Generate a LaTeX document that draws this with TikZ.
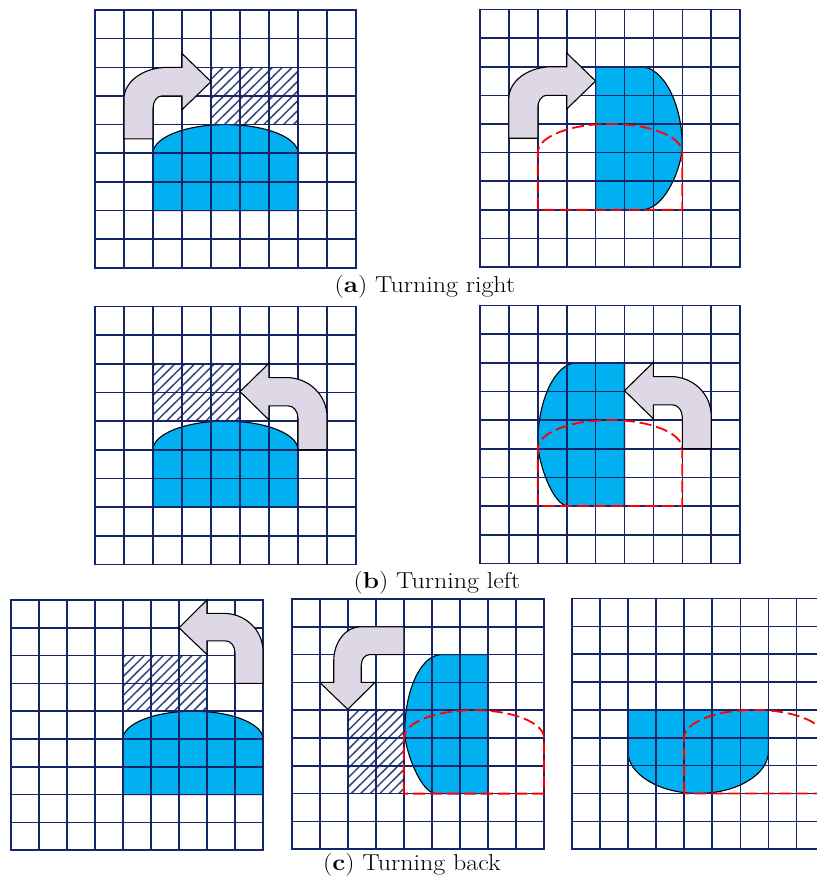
\documentclass[tikz,border=0pt]{standalone}
\usepackage{graphicx}
\definecolor{gridc}{RGB}{22,36,104}
\definecolor{bluec}{RGB}{0,176,240}
\definecolor{redc}{RGB}{255,0,0}
\definecolor{arrowc}{RGB}{222,215,230}
\tikzset{
  gridln/.style={draw=gridc, line width=1.6pt, line cap=rect},
  bluefill/.style={fill=bluec, draw=black, line width=1.1pt},
  ghost/.style={draw=redc, line width=1.8pt, dash pattern=on 12pt off 5pt},
  turnarrow/.style={fill=arrowc, draw=black, line width=1.1pt, line join=miter},
  hatchln/.style={draw=gridc!85, line width=1.5pt},
  caption/.style={font=\fontsize{23}{28}\selectfont, anchor=base, inner sep=0pt}
}
\newcommand\mygridlines{%
  \foreach \i in {0,...,9}{\draw[gridln] (\i,0) -- (\i,9); \draw[gridln] (0,\i) -- (9,\i);}}
\newcommand\hatcharea[4]{%
  \begin{scope}
    \clip (#1,#2) rectangle (#3,#4);
    \foreach \k in {0,...,45}{\draw[hatchln] ({#1-6+\k*0.34},#4) -- ++(6,-6);}
  \end{scope}}
\begin{document}
\begin{tikzpicture}[x=1pt,y=-1pt]
\useasboundingbox (0,0) rectangle (817,884);
\fill[white] (0,0) rectangle (817,884);

% ---------- (a) left
\begin{scope}[shift={(95pt,-10pt)}, x=29pt, y=-28.65pt]
  \path[bluefill] (2,7) -- (2,5) .. controls (2,4.448) and (3.119,4) .. (4.5,4) .. controls (5.881,4) and (7,4.448) .. (7,5) -- (7,7) -- cycle;
  \hatcharea{4}{2}{7}{4}
  \mygridlines
  \path[turnarrow] (1,4.5) -- (1,3.1) .. controls (1,2.5) and (1.67,2) .. (2.5,2) -- (3,2) -- (3,1.52) -- (4,2.5) -- (3,3.48) -- (3,3) -- (2.3,3) .. controls (2.13,3) and (2,3.2) .. (2,3.43) -- (2,4.5) -- cycle;
\end{scope}

% ---------- (a) right
\begin{scope}[shift={(480pt,-9.5pt)}, x=28.9pt, y=-28.6pt]
  \path[bluefill] (4,2) -- (5.55,2) .. controls (6.35,2) and (7,3.3) .. (7,4.8) .. controls (7,5.4) and (6.45,7) .. (5.6,7) -- (4,7) -- cycle;
  \mygridlines
  \path[ghost] (2,7) -- (2,5) .. controls (2,4.448) and (3.119,4) .. (4.5,4) .. controls (5.881,4) and (7,4.448) .. (7,5) -- (7,7) -- cycle;
  \path[turnarrow] (1,4.5) -- (1,3.1) .. controls (1,2.5) and (1.67,2) .. (2.5,2) -- (3,2) -- (3,1.52) -- (4,2.5) -- (3,3.48) -- (3,3) -- (2.3,3) .. controls (2.13,3) and (2,3.2) .. (2,3.43) -- (2,4.5) -- cycle;
\end{scope}

% ---------- (b) left
\begin{scope}[shift={(95pt,-306.5pt)}, x=29pt, y=-28.65pt]
  \path[bluefill] (2,7) -- (2,5) .. controls (2,4.448) and (3.119,4) .. (4.5,4) .. controls (5.881,4) and (7,4.448) .. (7,5) -- (7,7) -- cycle;
  \hatcharea{2}{2}{5}{4}
  \mygridlines
  \path[turnarrow] (8,5) -- (8,3.85) .. controls (8,3.09) and (7.37,2.48) .. (6.6,2.48) -- (6,2.48) -- (6,1.98) -- (5,2.97) -- (6,3.96) -- (6,3.47) -- (6.67,3.47) .. controls (6.85,3.47) and (7,3.66) .. (7,3.9) -- (7,5) -- cycle;
\end{scope}

% ---------- (b) right
\begin{scope}[shift={(480pt,-305.5pt)}, x=28.9pt, y=-28.65pt]
  \path[bluefill] (5,2) -- (3.35,2) .. controls (2.6,2) and (2,3.3) .. (2,4.8) .. controls (2,5.4) and (2.5,7) .. (3.06,7) -- (5,7) -- cycle;
  \mygridlines
  \path[ghost] (2,7) -- (2,5) .. controls (2,4.448) and (3.119,4) .. (4.5,4) .. controls (5.881,4) and (7,4.448) .. (7,5) -- (7,7) -- cycle;
  \path[turnarrow] (8,5) -- (8,3.85) .. controls (8,3.09) and (7.37,2.48) .. (6.6,2.48) -- (6,2.48) -- (6,1.98) -- (5,2.97) -- (6,3.96) -- (6,3.47) -- (6.67,3.47) .. controls (6.85,3.47) and (7,3.66) .. (7,3.9) -- (7,5) -- cycle;
\end{scope}

% ---------- (c) left
\begin{scope}[shift={(11pt,-600pt)}, x=28pt, y=-27.8pt]
  \path[bluefill] (4,7) -- (4,5) .. controls (4,4.448) and (5.119,4) .. (6.5,4) .. controls (7.881,4) and (9,4.448) .. (9,5) -- (9,7) -- cycle;
  \hatcharea{4}{2}{7}{4}
  \mygridlines
  \path[turnarrow] (9,3) -- (9,1.85) .. controls (9,1.09) and (8.37,0.48) .. (7.6,0.48) -- (7,0.48) -- (7,0) -- (6,1) -- (7,1.96) -- (7,1.47) -- (7.67,1.47) .. controls (7.85,1.47) and (8,1.66) .. (8,1.9) -- (8,3) -- cycle;
\end{scope}

% ---------- (c) middle
\begin{scope}[shift={(291.7pt,-599pt)}, x=28.03pt, y=-27.8pt]
  \path[bluefill] (7,2) -- (5.35,2) .. controls (4.6,2) and (4.03,3.3) .. (4.03,4.8) .. controls (4.03,5.4) and (4.6,7) .. (5.15,7) -- (7,7) -- cycle;
  \hatcharea{2}{4}{4}{7}
  \mygridlines
  \path[ghost] (4,7) -- (4,5) .. controls (4,4.448) and (5.119,4) .. (6.5,4) .. controls (7.881,4) and (9,4.448) .. (9,5) -- (9,7) -- cycle;
  \path[turnarrow] (4,1) -- (2.45,1) .. controls (1.93,1) and (1.5,1.55) .. (1.5,2.22) -- (1.5,3) -- (1,3) -- (2,3.97) -- (2.97,3) -- (2.48,3) -- (2.48,2.4) .. controls (2.48,2.18) and (2.6,2) .. (2.78,2) -- (4,2) -- cycle;
\end{scope}

% ---------- (c) right
\begin{scope}[shift={(571.7pt,-598.5pt)}, x=28.1pt, y=-27.85pt]
  \clip (-1,-1) rectangle (8.73,10);
  \path[bluefill] (2,4) -- (7,4) -- (7,5.5) .. controls (7,6.3) and (5.9,7) .. (4.5,7) .. controls (3.1,7) and (2,6.3) .. (2,5.5) -- cycle;
  \mygridlines
  \path[ghost] (4,7) -- (4,5) .. controls (4,4.448) and (5.119,4) .. (6.5,4) .. controls (7.881,4) and (9,4.448) .. (9,5) -- (9,7) -- cycle;
\end{scope}

% ---------- captions
\node[caption] (capA) at (425,292.7) {\scalebox{1.13}[1]{(\textbf{a}) Turning right}};
\node[caption] (capB) at (437,588.5) {\scalebox{1.13}[1]{(\textbf{b}) Turning left}};
\node[caption] (capC) at (412,870.7) {\scalebox{1.13}[1]{(\textbf{c}) Turning back}};
\end{tikzpicture}
\end{document}
